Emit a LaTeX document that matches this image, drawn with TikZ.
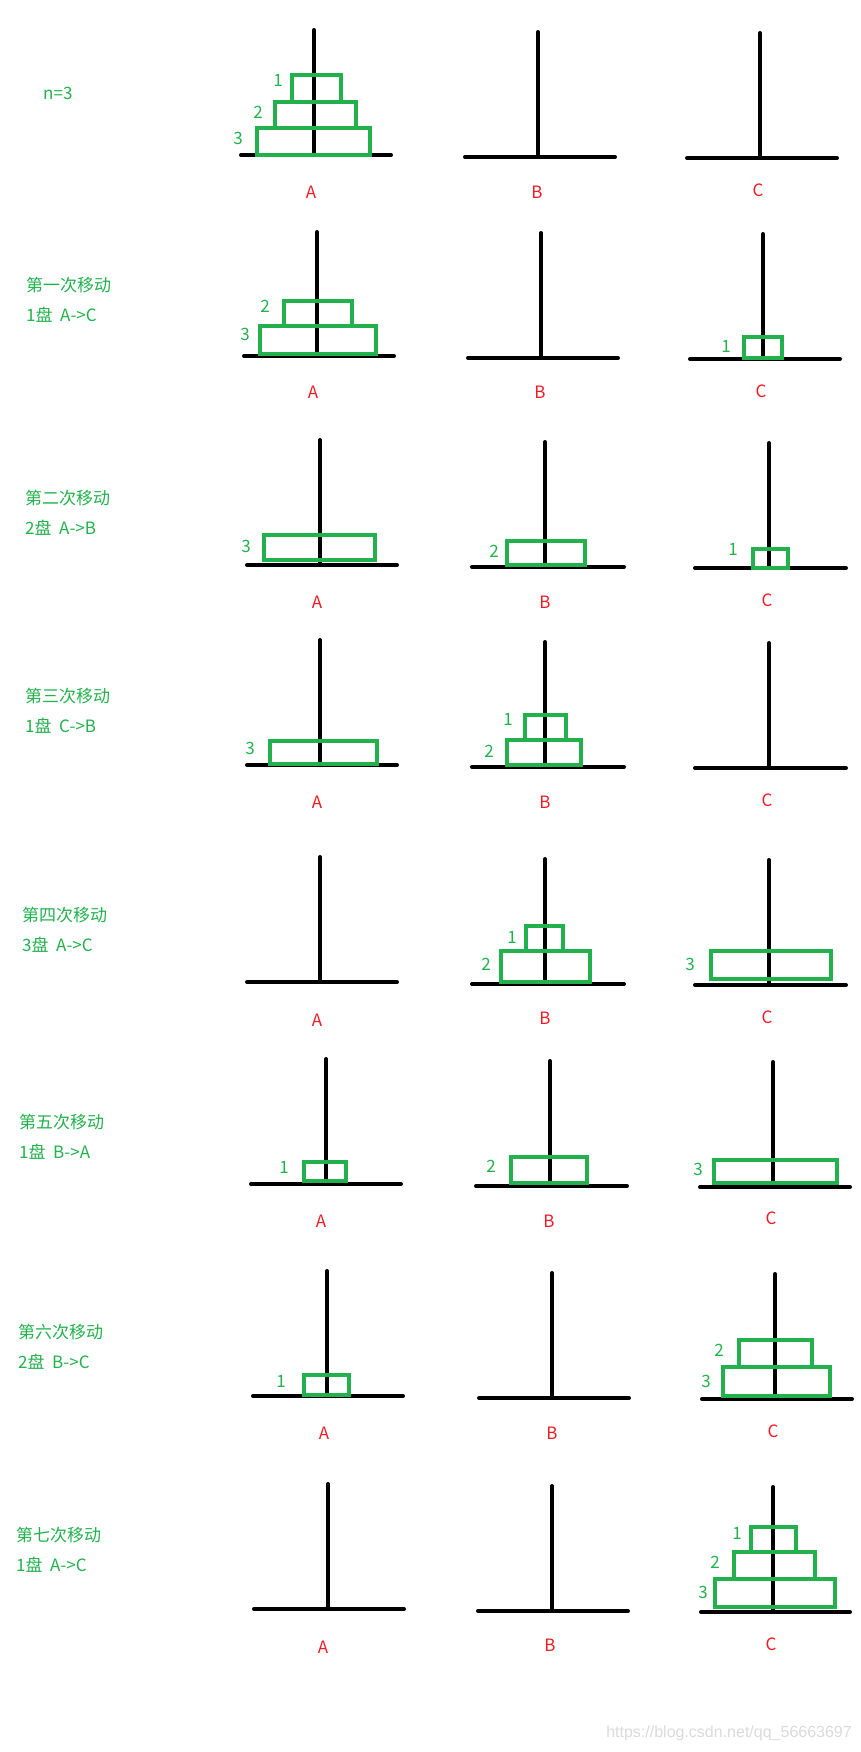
\documentclass[tikz,border=0pt]{standalone}
\usepackage{fontspec}
\setmainfont{Noto Sans CJK SC}
\newfontfamily\urlfont{Liberation Sans}
\usepackage{xcolor}
\definecolor{hanoigreen}{HTML}{22B14C}
\definecolor{hanoired}{HTML}{ED1C24}
\definecolor{markgray}{HTML}{DADADA}
\usepackage{tikz}

\begin{document}
\begin{tikzpicture}[
  x=1pt, y=-1pt,
  pole/.style={line width=4pt, line cap=round},
  disk/.style={draw=hanoigreen, line width=4.5pt},
  num/.style={text=hanoigreen, font=\fontsize{17}{17}\selectfont, inner sep=0pt},
  peg/.style={text=hanoired, font=\fontsize{17}{17}\selectfont, inner sep=0pt},
  move/.style={text=hanoigreen, font=\fontsize{17}{30}\selectfont,
    align=left, anchor=west, inner sep=0pt}
]
\useasboundingbox (0,0) rectangle (861,1752);

% start
\node[num, anchor=west] (n0) at (43,93) {n=3};
\draw[pole] (314,30) -- (314,155) (241,155) -- (391,155);
\draw[pole] (538,32) -- (538,157) (465,157) -- (615,157);
\draw[pole] (760,33) -- (760,158) (687,158) -- (837,158);
\draw[disk] (292,75) rectangle (341,102);
\draw[disk] (275,102) rectangle (356,128);
\draw[disk] (257,128) rectangle (370,155);
\node[num] (s0d1) at (278,80) {1};
\node[num] (s0d2) at (258,112) {2};
\node[num] (s0d3) at (238,138) {3};
\node[peg] (s0a) at (311,192) {A};
\node[peg] (s0b) at (537,192) {B};
\node[peg] (s0c) at (758,190) {C};

% move 1
\node[move] (mv1) at (26,300) {第一次移动\\1盘~~A->C};
\draw[pole] (317,232) -- (317,356) (244,356) -- (394,356);
\draw[pole] (541,233) -- (541,358) (468,358) -- (618,358);
\draw[pole] (763,234) -- (763,359) (690,359) -- (840,359);
\draw[disk] (284,301) rectangle (352,326);
\draw[disk] (260,326) rectangle (376,354);
\draw[disk] (744,337) rectangle (782,358);
\node[num] (s1d2) at (265,306) {2};
\node[num] (s1d3) at (245,334) {3};
\node[num] (s1d1) at (726,346) {1};
\node[peg] (s1a) at (313,392) {A};
\node[peg] (s1b) at (540,392) {B};
\node[peg] (s1c) at (761,391) {C};

% move 2
\node[move] (mv2) at (25,513) {第二次移动\\2盘~~A->B};
\draw[pole] (320,440) -- (320,565) (247,565) -- (397,565);
\draw[pole] (545,442) -- (545,567) (472,567) -- (624,567);
\draw[pole] (769,443) -- (769,568) (695,568) -- (846,568);
\draw[disk] (264,535) rectangle (375,560);
\draw[disk] (507,541) rectangle (585,565);
\draw[disk] (753,549) rectangle (788,568);
\node[num] (s2d3) at (246,546) {3};
\node[num] (s2d2) at (494,551) {2};
\node[num] (s2d1) at (733,549) {1};
\node[peg] (s2a) at (317,602) {A};
\node[peg] (s2b) at (545,602) {B};
\node[peg] (s2c) at (767,600) {C};

% move 3
\node[move] (mv3) at (25,711) {第三次移动\\1盘~~C->B};
\draw[pole] (320,640) -- (320,765) (247,765) -- (397,765);
\draw[pole] (545,642) -- (545,767) (472,767) -- (624,767);
\draw[pole] (769,643) -- (769,768) (695,768) -- (846,768);
\draw[disk] (270,741) rectangle (377,764);
\draw[disk] (525,715) rectangle (566,740);
\draw[disk] (507,740) rectangle (581,765);
\node[num] (s3d3) at (250,748) {3};
\node[num] (s3d1) at (508,719) {1};
\node[num] (s3d2) at (489,751) {2};
\node[peg] (s3a) at (317,802) {A};
\node[peg] (s3b) at (545,802) {B};
\node[peg] (s3c) at (767,800) {C};

% move 4
\node[move] (mv4) at (22,930) {第四次移动\\3盘~~A->C};
\draw[pole] (320,857) -- (320,982) (247,982) -- (397,982);
\draw[pole] (545,859) -- (545,984) (472,984) -- (624,984);
\draw[pole] (769,860) -- (769,985) (695,985) -- (846,985);
\draw[disk] (526,926) rectangle (563,951);
\draw[disk] (501,951) rectangle (590,982);
\draw[disk] (711,951) rectangle (831,979);
\node[num] (s4d1) at (512,937) {1};
\node[num] (s4d2) at (486,964) {2};
\node[num] (s4d3) at (690,964) {3};
\node[peg] (s4a) at (317,1020) {A};
\node[peg] (s4b) at (545,1018) {B};
\node[peg] (s4c) at (767,1017) {C};

% move 5
\node[move] (mv5) at (19,1137) {第五次移动\\1盘~~B->A};
\draw[pole] (326,1059) -- (326,1184) (251,1184) -- (401,1184);
\draw[pole] (550,1061) -- (550,1186) (476,1186) -- (627,1186);
\draw[pole] (773,1062) -- (773,1187) (700,1187) -- (850,1187);
\draw[disk] (304,1162) rectangle (346,1181);
\draw[disk] (511,1157) rectangle (587,1183);
\draw[disk] (714,1160) rectangle (837,1183);
\node[num] (s5d1) at (284,1167) {1};
\node[num] (s5d2) at (491,1166) {2};
\node[num] (s5d3) at (698,1169) {3};
\node[peg] (s5a) at (321,1221) {A};
\node[peg] (s5b) at (549,1221) {B};
\node[peg] (s5c) at (771,1218) {C};

% move 6
\node[move] (mv6) at (18,1347) {第六次移动\\2盘~~B->C};
\draw[pole] (327,1271) -- (327,1396) (253,1396) -- (403,1396);
\draw[pole] (552,1273) -- (552,1398) (479,1398) -- (629,1398);
\draw[pole] (775,1274) -- (775,1399) (702,1399) -- (852,1399);
\draw[disk] (304,1375) rectangle (349,1395);
\draw[disk] (739,1340) rectangle (812,1367);
\draw[disk] (723,1367) rectangle (830,1396);
\node[num] (s6d1) at (281,1381) {1};
\node[num] (s6d2) at (719,1350) {2};
\node[num] (s6d3) at (706,1381) {3};
\node[peg] (s6a) at (324,1433) {A};
\node[peg] (s6b) at (552,1433) {B};
\node[peg] (s6c) at (773,1431) {C};

% move 7
\node[move] (mv7) at (16,1550) {第七次移动\\1盘~~A->C};
\draw[pole] (328,1484) -- (328,1609) (254,1609) -- (404,1609);
\draw[pole] (552,1486) -- (552,1611) (478,1611) -- (628,1611);
\draw[pole] (773,1487) -- (773,1612) (701,1612) -- (850,1612);
\draw[disk] (751,1527) rectangle (796,1552);
\draw[disk] (734,1552) rectangle (815,1579);
\draw[disk] (715,1579) rectangle (835,1607);
\node[num] (s7d1) at (737,1533) {1};
\node[num] (s7d2) at (715,1562) {2};
\node[num] (s7d3) at (703,1592) {3};
\node[peg] (s7a) at (323,1647) {A};
\node[peg] (s7b) at (550,1645) {B};
\node[peg] (s7c) at (771,1644) {C};

\node[text=markgray, font=\urlfont\fontsize{16}{16}\selectfont, anchor=east,
  inner sep=0pt] (mark) at (852,1733) {https://blog.csdn.net/qq\_56663697};
\end{tikzpicture}
\end{document}
